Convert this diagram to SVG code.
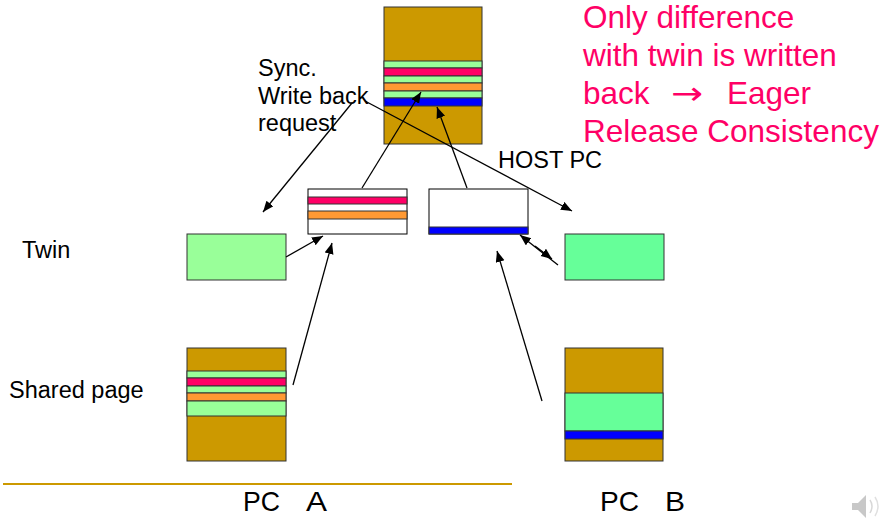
<svg xmlns="http://www.w3.org/2000/svg" width="887" height="518" viewBox="0 0 887 518">
<style>
.lbl{font-family:"Liberation Sans",Arial,sans-serif;font-size:23.5px;fill:#000}
.pink{font-family:"Liberation Sans",Arial,sans-serif;font-size:31.5px;fill:#ff0066}
.arr{font-family:"DejaVu Sans",sans-serif}
.pc{font-family:"Liberation Sans",Arial,sans-serif;font-size:28px;fill:#000}
.br{fill:#cc9900;stroke:#333;stroke-width:1}
.lg{fill:#99ff99;stroke:#333;stroke-width:1}
.bg{fill:#66ff99;stroke:#333;stroke-width:1}
.rd{fill:#ff0066;stroke:#333;stroke-width:1}
.or{fill:#ff9933;stroke:#333;stroke-width:1}
.bl{fill:#0000ff;stroke:#333;stroke-width:1}
.wh{fill:#fff;stroke:#000;stroke-width:1}
.con{stroke:#000;stroke-width:1.3;fill:none;marker-end:url(#ah)}
</style>
<defs>
<marker id="ah" markerUnits="userSpaceOnUse" markerWidth="12" markerHeight="10" refX="11" refY="4.5" orient="auto">
<path d="M0,0 L11,4.5 L0,9 z" fill="#000"/>
</marker>
</defs>
<rect width="887" height="518" fill="#fff"/>

<g id="host-page">
<rect class="br" x="384" y="7" width="98" height="137"/>
<rect class="lg" x="384" y="61" width="98" height="7"/>
<rect class="rd" x="384" y="68" width="98" height="8"/>
<rect class="lg" x="384" y="76" width="98" height="7"/>
<rect class="or" x="384" y="83" width="98" height="8"/>
<rect class="lg" x="384" y="91" width="98" height="7"/>
<rect class="bl" x="384" y="98" width="98" height="8"/>
</g>

<g id="diff-a">
<rect class="wh" x="308" y="189" width="99" height="45"/>
<rect class="rd" x="308" y="197" width="99" height="7"/>
<rect class="or" x="308" y="211" width="99" height="8"/>
</g>

<g id="diff-b">
<rect class="wh" x="429" y="189" width="99" height="45"/>
<rect class="bl" x="429" y="227" width="99" height="7"/>
</g>

<g id="twin-a">
<rect class="lg" x="187" y="234" width="99" height="46"/>
</g>

<g id="twin-b">
<rect class="bg" x="565" y="234" width="99" height="46"/>
</g>

<g id="shared-a">
<rect class="br" x="187" y="348" width="99" height="113"/>
<rect class="lg" x="187" y="371" width="99" height="7"/>
<rect class="rd" x="187" y="378" width="99" height="8"/>
<rect class="lg" x="187" y="386" width="99" height="7"/>
<rect class="or" x="187" y="393" width="99" height="8"/>
<rect class="lg" x="187" y="401" width="99" height="15"/>
</g>

<g id="shared-b">
<rect class="br" x="565" y="348" width="98" height="113"/>
<rect class="bg" x="565" y="393" width="98" height="38"/>
<rect class="bl" x="565" y="431" width="98" height="8"/>
</g>

<g id="connectors">
<path class="con" d="M362,188 L421,92"/>
<path class="con" d="M467,188 L437,107"/>
<path class="con" d="M352,103 L263,212"/>
<path class="con" d="M365,101 L572,211"/>
<path class="con" d="M286,257 L323,236"/>
<path class="con" d="M293,385 L332,243"/>
<path class="con" d="M558,265 L520,235"/>
<path class="con" d="M535,246 L552,259"/>
<path class="con" d="M542,401 L497,251"/>
</g>

<g id="labels">
<text class="lbl" x="258" y="76">Sync.</text>
<text class="lbl" x="258" y="104">Write back</text>
<text class="lbl" x="258" y="131">request</text>
<text class="lbl" x="498" y="168">HOST PC</text>
<text class="lbl" x="22" y="258">Twin</text>
<text class="lbl" x="9" y="398">Shared page</text>
</g>

<g id="note">
<text class="pink" x="583" y="28">Only difference</text>
<text class="pink" x="583" y="66">with twin is written</text>
<text class="pink" y="104"><tspan x="583">back</tspan><tspan class="arr" x="671" textLength="32" lengthAdjust="spacingAndGlyphs">→</tspan><tspan x="727">Eager</tspan></text>
<text class="pink" x="583" y="142">Release Consistency</text>
</g>

<line x1="3" y1="484" x2="512" y2="484" stroke="#cc9900" stroke-width="2"/>

<g id="pc-labels">
<text class="pc" y="511"><tspan x="243" textLength="37" lengthAdjust="spacingAndGlyphs">PC</tspan><tspan x="306" textLength="21" lengthAdjust="spacingAndGlyphs">A</tspan></text>
<text class="pc" y="511"><tspan x="600" textLength="39" lengthAdjust="spacingAndGlyphs">PC</tspan><tspan x="665" textLength="20" lengthAdjust="spacingAndGlyphs">B</tspan></text>
</g>

<g id="speaker" fill="#c8c8c8">
<path d="M852,503 L858,503 L866,495 L866,518 L858,510 L852,510 z"/>
<path d="M870,500 Q874,506 870,513" fill="none" stroke="#d8d8d8" stroke-width="1.5"/>
<path d="M875,497 Q881,506 875,516" fill="none" stroke="#e0e0e0" stroke-width="1.5"/>
</g>
</svg>
